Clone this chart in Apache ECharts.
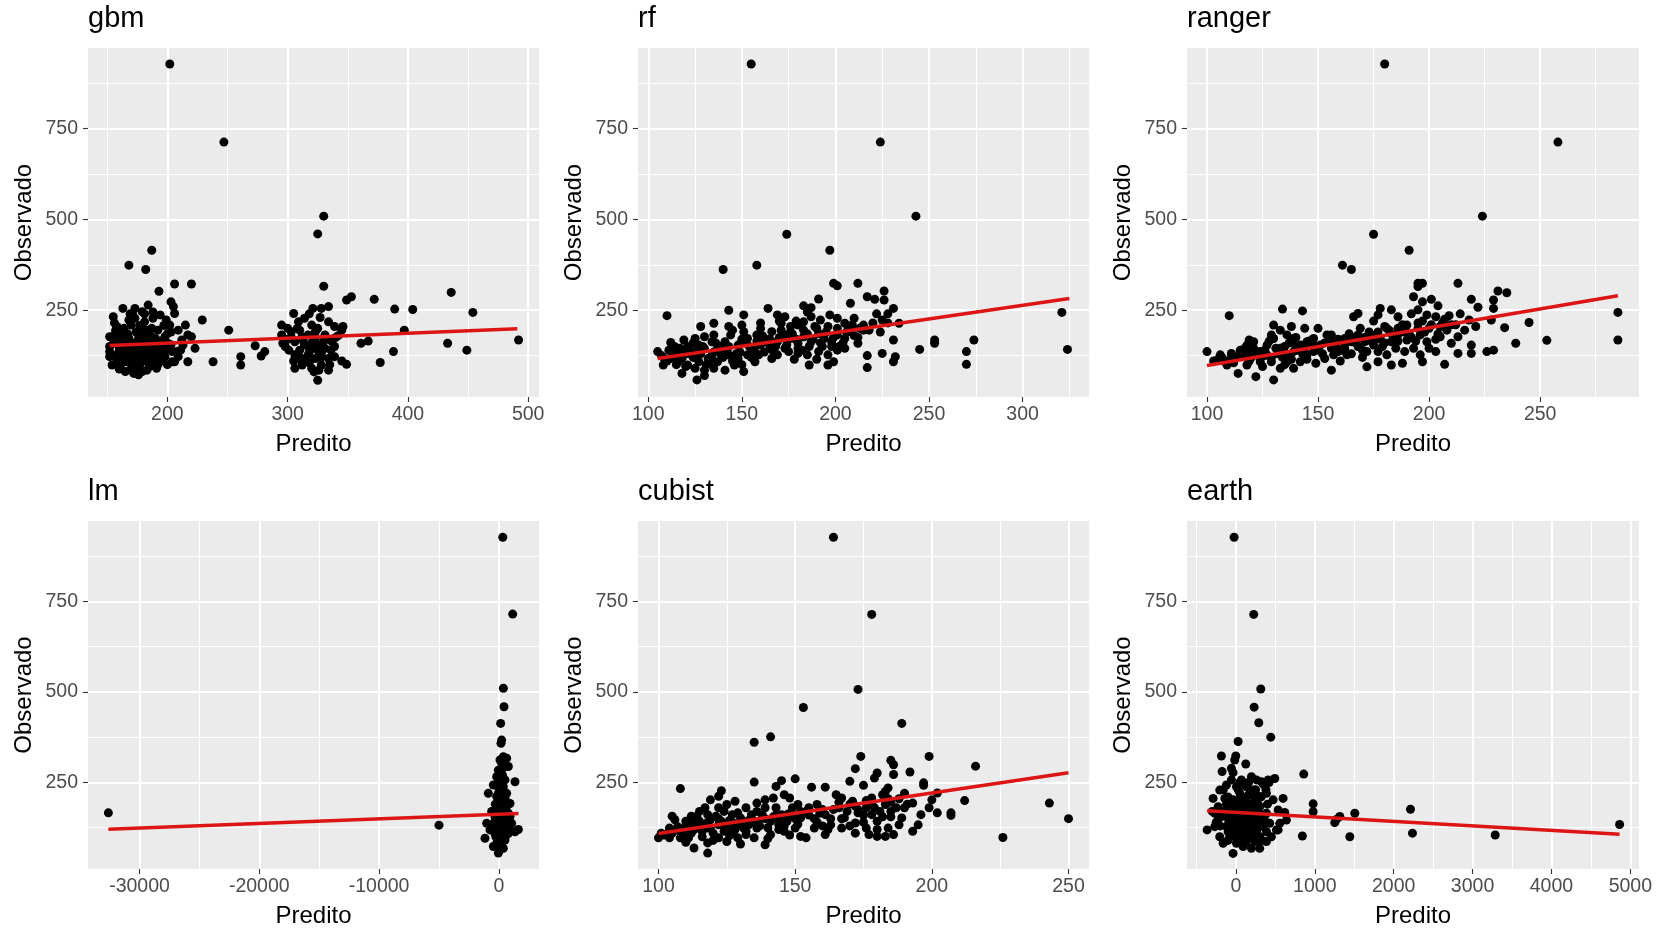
<!DOCTYPE html>
<html><head><meta charset="utf-8">
<script src="https://cdn.jsdelivr.net/npm/echarts@6/dist/echarts.min.js"></script>
<style>html,body{margin:0;padding:0;background:#fff}#c{width:1658px;height:931px}</style>
</head><body><div id="c"></div>
<script>
// ---------- data ----------
const panelNames = ['gbm', 'rf', 'ranger', 'lm', 'cubist', 'earth'];

const gbmPts = [
[202,928],[247,713],[330,509],[325,460],[187,415],[168,374],[182,362],[330,316],[193,302],[206,322],[220,322],
[353,287],[349,278],[372,280],[436,299],[454,244],[389,253],[404,252],[397,195],[492,168],[433,159],[449,140],[388,136],[377,106],[361,159],[367,165],[325,57],[251,195],[229,223],[238,108],[261,122],[261,99],[273,152],[281,136],[278,124],
[155,232],[158,205],[163,255],[173,255],[179,246],[184,264],[173,228],[170,209],[181,218],[188,228],[194,237],[199,223],[203,273],[205,260],[206,241],[202,209],[215,209],[209,195],[220,177],[223,145],[213,154],[208,136],[206,108],[198,122],[192,99],[187,108],[176,72],[165,81],[161,99],[152,122],[152,150],[152,177],[156,163],[162,145],[168,172],[173,159],[179,182],[184,159],[190,172],[195,154],[198,177],[192,195],[187,200],[180,195],[168,127],[173,117],[181,127],[188,136],[166,108],[170,90],[177,99],[183,85],[201,145],[217,108],[158,127],[162,191],[168,223],[176,145],[156,182],[195,127],
[159,154],[165,136],[170,154],[176,172],[181,145],[187,163],[192,136],[198,163],[204,136],[163,117],[174,127],[186,117],[179,81],[172,76],[154,99],[152,136],[204,108],[209,122],[212,168],[217,182],
[158,110],[162,170],[166,160],[170,120],[175,110],[178,135],[182,110],[185,140],[189,150],[193,115],[196,145],[200,160],[203,190],[160,140],[157,195],[167,185],[183,195],[177,208],[171,240],[188,245],[197,208],[160,88],[185,95],[190,120],[200,100],[211,140],[178,160],[165,150],[172,100],[156,215],
[155,170],[160,180],[163,130],[167,145],[171,135],[174,190],[177,125],[180,170],[184,130],[186,180],[190,160],[194,165],[197,135],[200,185],[203,155],[158,100],[164,200],[169,240],[181,240],[191,90],[196,110],[175,90],
[305,241],[295,209],[295,182],[303,191],[309,218],[314,228],[321,255],[328,255],[334,260],[320,209],[325,200],[334,218],[339,205],[346,205],[345,195],[296,159],[301,140],[306,163],[312,177],[317,182],[323,172],[331,182],[337,163],[314,154],[320,145],[325,154],[331,145],[306,127],[312,108],[317,127],[323,117],[328,131],[334,117],[339,122],[345,110],[349,101],[306,90],[312,99],[320,90],[328,99],[334,85],[339,150],
[300,200],[310,195],[318,240],[327,230],[300,170],[310,140],[320,160],[330,165],[315,118],[325,140],[340,175],[305,110],[335,100],[322,80],
[298,150],[303,175],[308,200],[313,165],[318,135],[323,190],[328,120],[332,170],[336,140],[342,180],[310,120],[318,105],[326,85]
];
const rfPts = [
[155,928],[224,713],[243,509],[174,459],[197,415],[158,374],[140,362],
[199,324],[201,317],[212,324],[226,303],[217,287],[221,280],[191,281],[183,262],[187,257],[164,255],[143,250],[151,237],[110,235],[321,244],[324,142],[208,269],[226,278],[231,255],[225,223],[234,214],[231,168],[225,131],[232,122],[231,108],[217,125],[217,92],[245,142],[253,168],[253,159],[274,168],[270,136],[270,101],[151,81],[126,58],[118,76],[105,136],[108,99],[112,161],[119,168],[128,205],[135,214],[143,205],[150,209],[158,182],[169,237],[173,232],[171,214],[176,205],[180,209],[183,218],[187,232],[192,223],[197,237],[201,228],[205,214],[210,228],[215,209],[208,191],[212,159],[205,172],[201,182],[198,163],[194,172],[191,186],[187,163],[183,177],[180,159],[176,172],[173,182],[169,163],[166,191],[165,145],[169,127],[175,136],[180,131],[185,127],[191,136],[196,127],[201,140],[186,99],[196,99],[199,108],[166,117],[157,108],[156,145],[153,172],[148,154],[144,182],[141,163],[137,145],[134,163],[130,145],[127,154],[123,136],[119,127],[116,136],[112,117],[116,108],[121,99],[127,108],[132,117],[137,108],[143,127],[148,117],[153,127],[146,99],[141,85],[135,90],[130,85],[125,90],[121,150],[125,172],[130,177],[135,182],[139,127],[151,191],[160,154],[159,127],[162,172],
[110,110],[113,125],[117,115],[120,140],[124,120],[128,130],[131,100],[134,125],[138,150],[142,140],[145,110],[149,135],[152,160],[155,120],[158,165],[162,135],[165,170],[168,150],[171,195],[174,155],[177,185],[180,145],[183,195],[186,150],[189,205],[192,160],[195,190],[198,150],[201,200],[204,160],[207,205],[210,180],[213,200],[218,195],[222,240],[228,215],[120,95],[130,70],[140,120],[145,195],[160,200],[178,115],[190,115],[205,145],[185,245],[170,220],[124,160],[114,150],[108,120],[135,135],
[107,125],[111,140],[115,100],[118,118],[122,130],[126,120],[129,150],[133,110],[136,160],[139,140],[143,150],[147,130],[150,170],[154,150],[157,135],[161,180],[164,160],[167,135],[170,175],[173,145],[176,190],[179,170],[182,140],[185,185],[188,170],[190,200],[193,150],[196,205],[199,175],[202,150],[206,190],[209,210],[212,175],[215,195],[220,215],[224,190],[228,240],[179,220],[160,215],[150,100],[126,140],[117,145]
];
const rangerPts = [
[180,928],[258,713],[224,509],[175,459],[191,415],[161,374],[165,362],
[195,324],[197,324],[195,315],[213,324],[231,303],[235,298],[219,280],[229,278],[222,258],[229,255],[193,287],[197,273],[201,280],[204,262],[195,251],[199,237],[203,232],[178,255],[183,251],[177,237],[186,232],[166,232],[168,241],[143,248],[134,253],[110,235],[285,244],[285,168],[245,216],[253,167],[239,159],[234,202],[228,223],[221,205],[218,223],[216,195],[213,177],[210,159],[213,131],[219,131],[219,154],[226,136],[229,140],[207,101],[203,136],[196,127],[197,108],[188,104],[183,99],[172,94],[177,108],[181,127],[189,136],[193,145],[199,163],[196,182],[190,168],[186,182],[183,163],[178,172],[175,154],[172,136],[177,136],[171,163],[168,182],[165,163],[162,145],[163,127],[159,136],[157,163],[154,182],[156,145],[151,154],[148,136],[153,117],[156,85],[149,104],[145,127],[142,108],[139,90],[136,108],[133,90],[130,58],[129,108],[127,127],[124,108],[122,67],[118,99],[114,76],[112,108],[109,99],[111,127],[115,136],[118,154],[121,145],[124,136],[127,154],[130,172],[133,145],[136,127],[139,136],[142,154],[139,172],[136,182],[133,195],[130,209],[129,182],[121,163],[119,168],[117,145],[138,205],[144,200],[145,163],[148,172],[156,182],[157,127],[162,172],[169,200],[174,182],[181,200],[186,200],[190,209],[195,200],[205,205],[205,177],[208,195],[100,136],[106,127],[111,131],[108,108],
[105,115],[110,110],[113,120],[116,125],[120,120],[123,125],[126,140],[129,120],[132,130],[135,150],[138,115],[141,140],[144,145],[147,155],[150,140],[153,160],[156,150],[159,170],[162,155],[165,175],[168,150],[171,175],[174,165],[177,190],[180,160],[183,185],[186,165],[189,190],[192,175],[195,215],[198,190],[201,210],[204,185],[207,225],[210,210],[214,240],[118,130],[125,95],[135,100],[145,115],[160,110],[170,120],[185,145],[200,145],[192,240],[175,220],[150,200],[128,165],
[103,110],[107,118],[112,105],[115,140],[119,110],[122,135],[126,125],[131,145],[134,120],[137,160],[140,150],[143,130],[146,165],[149,150],[152,130],[155,170],[158,155],[161,140],[164,185],[167,160],[170,140],[173,190],[176,170],[179,150],[182,195],[185,170],[188,210],[191,185],[194,165],[197,220],[200,200],[203,170],[206,215],[209,235],[212,210],[180,205],[165,130],[140,175],[120,145]
];
const lmPts = [
[-32600,166],[-5000,132],[327,927],[1152,715],[373,510],[429,459],[150,413],[234,367],[178,358],[373,321],[651,317],[790,294],[234,303],[-45,284],[-184,266],[95,261],[1347,252],[-462,243],[373,238],[-880,220],[-45,220],[651,220],[-45,202],[373,192],[930,192],[95,179],[-323,156],[651,156],[-1019,137],[-601,132],[-45,128],[512,128],[1068,137],[1625,120],[-323,109],[234,109],[790,109],[-1158,96],[-45,91],[512,91],[-462,73],[95,64],[-45,55],[95,312],[512,294],[234,275],[512,257],[95,229],[-184,211],[234,211],[512,206],[95,192],[-184,174],[512,174],[234,160],[95,146],[-323,128],[234,128],[-740,119],[-184,114],[512,100],[234,82],[-184,82],[373,68],[930,119],[1347,114],[-462,137],[790,165],[930,156],
[0,150],[150,140],[300,150],[-100,170],[200,185],[400,200],[-200,190],[100,200],[300,230],[0,250],[200,245],[-300,190],[450,140],[-150,140],[50,120],[300,110],[-250,100],[450,95],[150,95],[0,75],[250,70],[600,180],[-600,170],[100,280],[300,270],[-100,240],[700,130],
[50,170],[250,200],[-50,260],[150,230],[350,180],[-250,150],[150,160],[400,120],[-100,110],[100,90]
];
const cubistPts = [
[164,927],[178,714],[173,507],[153,457],[189,413],[141,376],[135,361],
[174,322],[185,311],[186,299],[199,322],[216,295],[172,288],[180,276],[179,262],[186,272],[192,279],[197,249],[197,242],[170,253],[175,242],[161,237],[156,237],[150,260],[145,255],[143,239],[142,207],[135,251],[123,227],[119,202],[122,212],[128,198],[108,233],[202,221],[212,200],[243,193],[250,150],[226,98],[202,166],[207,159],[207,166],[193,193],[190,180],[189,152],[184,235],[182,216],[178,207],[183,189],[185,170],[188,133],[184,124],[180,143],[178,161],[176,180],[173,166],[171,198],[167,207],[165,216],[166,180],[168,152],[172,138],[176,124],[177,106],[180,101],[183,101],[172,110],[167,124],[163,133],[161,161],[158,189],[155,180],[152,152],[157,124],[161,106],[154,97],[152,101],[150,124],[147,143],[145,161],[143,180],[139,180],[136,170],[134,161],[132,180],[129,166],[127,161],[124,170],[122,180],[118,161],[115,170],[112,157],[110,143],[106,147],[105,157],[107,124],[104,124],[100,97],[104,97],[108,97],[111,97],[113,69],[118,55],[118,83],[122,97],[125,87],[129,97],[132,106],[135,97],[139,78],[141,106],[144,120],[146,115],[136,124],[133,133],[129,133],[125,124],[122,133],[118,124],[115,124],[111,124],[115,143],[119,147],[123,143],[127,133],[130,152],[135,143],[138,152],[141,143],[144,133],[147,161],[149,180],[148,207],[151,189],[146,216],[139,202],[136,193],[114,157],[117,180],[121,157],[125,189],[196,161],[199,180],[200,202],[195,133],[193,115],[186,106],
[102,105],[105,110],[108,115],[110,130],[112,110],[114,135],[116,115],[118,140],[120,110],[122,150],[124,115],[126,145],[128,120],[130,140],[132,115],[134,150],[136,135],[138,160],[140,125],[142,155],[144,145],[146,130],[148,165],[150,150],[152,170],[155,160],[158,140],[160,175],[163,150],[166,195],[169,170],[172,185],[175,160],[178,190],[181,170],[184,205],[187,180],[190,220],[185,155],[180,120],[170,130],[162,120],[120,90],[130,80],[140,95],[110,85],[116,100],[126,103],
[101,110],[104,115],[107,128],[109,105],[113,120],[117,130],[119,125],[123,135],[127,140],[131,125],[133,145],[137,130],[139,150],[143,160],[145,140],[149,160],[151,135],[154,170],[157,150],[159,165],[164,175],[167,150],[170,190],[173,175],[176,200],[179,180],[182,155],[185,195],[188,205],[191,190],[183,225],[175,140],[160,130],[148,105],[112,140],[127,110]
];
const earthPts = [
[-23,927],[226,714],[315,508],[231,458],[290,415],[442,375],[28,363],[-184,323],[-2,323],[-15,312],[125,301],[-57,289],[-36,277],[-175,280],[493,261],[408,257],[324,252],[261,257],[860,273],[598,206],[979,191],[979,169],[640,146],[619,167],[1274,148],[1317,156],[1253,139],[1507,165],[2213,176],[2238,110],[843,102],[1444,100],[-365,119],[-36,54],[197,68],[302,68],[-162,82],[-205,100],[-268,128],[-289,206],[-205,229],[-120,243],[-141,206],[49,220],[133,238],[218,229],[302,211],[387,220],[472,202],[535,174],[556,137],[514,119],[450,100],[387,87],[91,73],[7,82],[-78,100],[-120,128],[-184,156],[-226,183],[-78,183],[49,183],[176,183],[302,183],[387,165],[261,156],[133,156],[7,156],[-120,156],[-36,128],[91,128],[218,128],[345,128],[429,137],[302,100],[176,100],[49,100],[-36,202],[91,206],[239,202],[155,215],[7,238],[-57,257],[70,257],[197,266],[-162,169],[-268,165],[28,169],[112,169],[218,169],[-78,142],[49,142],[155,142],[261,142],[387,114],[261,114],[133,114],[7,114],[-99,114],[7,96],[133,87],[239,87],[535,119],[4864,134],[3287,105],
[0,140],[60,160],[120,130],[180,150],[240,170],[300,140],[360,150],[-60,160],[-120,190],[-200,130],[20,200],[90,180],[150,110],[210,100],[270,125],[330,160],[400,190],[-30,110],[-90,140],[60,90],[120,200],[200,215],[280,190],[350,245],[420,250],[-100,90],[30,230],[160,250],[-250,140],[-300,170],[80,140],[250,230],[100,110],[330,90],[0,180],[-160,230],
[-40,170],[40,130],[100,160],[160,190],[220,140],[280,160],[-100,210],[50,250],[120,100],[190,120],[250,90],[-150,170],[320,210],[380,230],[-220,150],[10,120],[70,210],[140,170],[200,180],[260,200],[-60,130]
];

// fitted (lm) lines: end points
const gbmFit = [[152,153],[491,199]];
const rfFit = [[105,117],[325,282]];
const rangerFit = [[100,98],[285,290]];
const lmFit = [[-32600,121],[1640,164]];
const cubistFit = [[100,109],[250,277]];
const earthFit = [[-365,172],[4864,107]];

// tick labels
const gbmXTicks = [200,300,400,500];
const rfXTicks = [100,150,200,250,300];
const rangerXTicks = [100,150,200,250];
const lmXTicks = [-30000,-20000,-10000,0];
const cubistXTicks = [100,150,200,250];
const earthXTicks = [0,1000,2000,3000,4000,5000];
const gbmXMinor = [150,250,350,450];
const rfXMinor = [125,175,225,275,325];
const rangerXMinor = [125,175,225,275];
const lmXMinor = [-25000,-15000,-5000];
const cubistXMinor = [125,175,225];
const earthXMinor = [-500,500,1500,2500,3500,4500];
const yTicks = [250,500,750];
const yMinor = [125,375,625,875];

// axis ranges
const gbmXRange = [134,509];
const rfXRange = [94.5,335.5];
const rangerXRange = [91,294.5];
const lmXRange = [-34300,3350];
const cubistXRange = [92.5,257.5];
const earthXRange = [-620,5110];
const yRange = [11,972];

// ---------- chart ----------
const FONT = '"Liberation Sans", Arial, sans-serif';
const panels = [
  {pts:gbmPts, fit:gbmFit, xr:gbmXRange, xt:gbmXTicks, xm:gbmXMinor},
  {pts:rfPts, fit:rfFit, xr:rfXRange, xt:rfXTicks, xm:rfXMinor},
  {pts:rangerPts, fit:rangerFit, xr:rangerXRange, xt:rangerXTicks, xm:rangerXMinor},
  {pts:lmPts, fit:lmFit, xr:lmXRange, xt:lmXTicks, xm:lmXMinor},
  {pts:cubistPts, fit:cubistFit, xr:cubistXRange, xt:cubistXTicks, xm:cubistXMinor},
  {pts:earthPts, fit:earthFit, xr:earthXRange, xt:earthXTicks, xm:earthXMinor}
];
const boxes = [[88,48,451,349],[638,48,451,349],[1187,48,452,349],[88,521,451,348],[638,521,451,348],[1187,521,452,348]];

const grid = [], xAxis = [], yAxis = [], series = [], title = [];
panels.forEach((p, i) => {
  const b = boxes[i];
  grid.push({left:b[0], top:b[1], width:b[2], height:b[3], show:true, backgroundColor:'#EBEBEB', borderWidth:0, containLabel:false});
  title.push({text:panelNames[i], left:b[0], top:b[1]-44, padding:0,
    textStyle:{fontSize:29, fontWeight:'normal', color:'#000', fontFamily:FONT}});
  xAxis.push({type:'value', gridIndex:i, min:p.xr[0], max:p.xr[1], position:'bottom',
    axisLine:{show:false, onZero:false},
    axisTick:{show:true, length:5, lineStyle:{color:'#333', width:1.1}, customValues:p.xt},
    axisLabel:{customValues:p.xt, formatter:v => String(v), color:'#4D4D4D', fontSize:19.5, fontFamily:FONT, margin:8},
    splitLine:{show:true, lineStyle:{color:'#FFFFFF', width:2}},
    name:'Predito', nameLocation:'middle', nameGap:35,
    nameTextStyle:{fontSize:24, color:'#000', fontFamily:FONT}});
  xAxis.push({type:'value', gridIndex:i, min:p.xr[0], max:p.xr[1], position:'bottom',
    axisLine:{show:false, onZero:false}, axisTick:{show:false, customValues:p.xm}, axisLabel:{show:false, customValues:p.xm},
    splitLine:{show:true, lineStyle:{color:'#FFFFFF', width:1}}});
  yAxis.push({type:'value', gridIndex:i, min:yRange[0], max:yRange[1], position:'left',
    axisLine:{show:false, onZero:false},
    axisTick:{show:true, length:5, lineStyle:{color:'#333', width:1.1}, customValues:yTicks},
    axisLabel:{customValues:yTicks, formatter:v => String(v), color:'#4D4D4D', fontSize:19.5, fontFamily:FONT, margin:10},
    splitLine:{show:true, lineStyle:{color:'#FFFFFF', width:2}},
    name:'Observado', nameLocation:'middle', nameGap:52, nameRotate:90,
    nameTextStyle:{fontSize:24, color:'#000', fontFamily:FONT}});
  yAxis.push({type:'value', gridIndex:i, min:yRange[0], max:yRange[1], position:'left',
    axisLine:{show:false, onZero:false}, axisTick:{show:false, customValues:yMinor}, axisLabel:{show:false, customValues:yMinor},
    splitLine:{show:true, lineStyle:{color:'#FFFFFF', width:1}}});
  series.push({type:'scatter', xAxisIndex:2*i, yAxisIndex:2*i, data:p.pts, symbolSize:9,
    itemStyle:{color:'#000', opacity:1}, z:3, silent:true});
  series.push({type:'line', xAxisIndex:2*i, yAxisIndex:2*i, data:p.fit, symbol:'none', showSymbol:false,
    lineStyle:{color:'#DD1515', width:3.5}, z:4, silent:true});
});

const chart = echarts.init(document.getElementById('c'), null, {renderer:'canvas'});
chart.setOption({animation:false, backgroundColor:'#FFFFFF', title, grid, xAxis, yAxis, series});
</script>
</body></html>
